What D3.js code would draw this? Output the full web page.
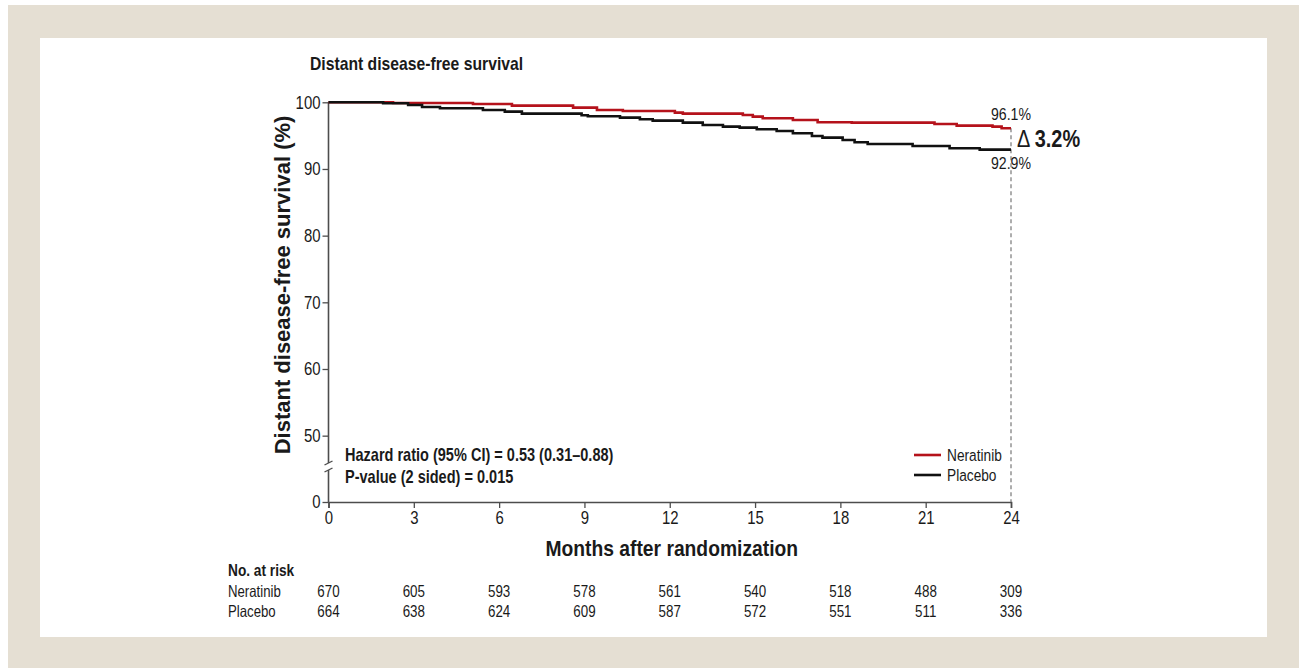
<!DOCTYPE html>
<html>
<head>
<meta charset="utf-8">
<script src="https://cdn.jsdelivr.net/npm/d3@7"></script>
<style>
  body { margin: 0; background: #fff; }
  svg text { font-family: "Liberation Sans", Arial, sans-serif; fill: #1a1a1a; }
</style>
</head>
<body>
<div id="chart"></div>
<script>
// Kaplan-Meier step data (months, % free of distant disease)
var neratinibTimes = [0, 2.27, 5.08, 6.45, 8.6, 9.44, 10.35, 12.18, 12.46, 14.57, 14.92, 15.27, 16.33, 17.2, 18.4, 21.31, 22.09, 23.35, 23.67, 24];
var neratinibSurv  = [100, 99.9, 99.75, 99.5, 99.2, 98.85, 98.7, 98.45, 98.3, 98.1, 97.85, 97.6, 97.35, 97.0, 96.95, 96.75, 96.5, 96.35, 96.1, 96.1];

var placeboTimes = [0, 1.92, 2.8, 3.29, 3.92, 5.43, 6.2, 6.8, 8.9, 9.12, 10.25, 10.95, 11.4, 12.46, 13.16, 13.87, 14.46, 15.06, 15.76, 16.33, 17.0, 17.37, 18.08, 18.5, 18.96, 20.54, 21.84, 22.9, 24];
var placeboSurv  = [100, 99.85, 99.6, 99.3, 99.1, 98.85, 98.6, 98.3, 98.05, 97.9, 97.7, 97.45, 97.25, 96.95, 96.6, 96.35, 96.2, 95.95, 95.7, 95.35, 94.95, 94.7, 94.35, 94.0, 93.75, 93.45, 93.1, 92.9, 92.9];

var xTicks = [0, 3, 6, 9, 12, 15, 18, 21, 24];
var yTicks = [0, 50, 60, 70, 80, 90, 100];

var riskNeratinib = [670, 605, 593, 578, 561, 540, 518, 488, 309];
var riskPlacebo   = [664, 638, 624, 609, 587, 572, 551, 511, 336];

var finalNeratinib = "96.1%", finalPlacebo = "92.9%", deltaLabel = "3.2%";

var W = 1299, H = 668;
var SX = 0.83; // the original uses a condensed face; squeeze text horizontally

var svg = d3.select("#chart")
  .append("svg")
    .attr("width", W)
    .attr("height", H);

// helper: condensed text at (x, y)
function label(x0, y0, str, size, opts) {
  opts = opts || {};
  return svg.append("text")
    .attr("transform", "translate(" + x0 + "," + y0 + ") scale(" + (opts.sx || SX) + ",1)")
    .attr("text-anchor", opts.anchor || "start")
    .attr("font-size", size + "px")
    .attr("font-weight", opts.bold ? "bold" : "normal")
    .text(str);
}

// beige frame + white panel
svg.append("rect").attr("x", 8).attr("y", 5).attr("width", W - 8).attr("height", H - 5).attr("fill", "#e5dfd3");
svg.append("rect").attr("x", 40).attr("y", 38).attr("width", 1227).attr("height", 599).attr("fill", "#fff");

// scales (y is broken between 0 and 50)
var x = d3.scaleLinear().domain([0, 24]).range([328.5, 1011]);
var y = d3.scaleLinear().domain([0, 45, 100]).range([502, 469, 102.3]);

var axisColor = "#4d4d4d";

// x axis
var xAxis = svg.append("g")
    .attr("transform", "translate(0," + y(0) + ")")
    .call(d3.axisBottom(x).tickValues(xTicks).tickSize(6).tickPadding(3));
xAxis.select(".domain").attr("stroke", axisColor).attr("stroke-width", 1.6);
xAxis.selectAll(".tick line").attr("stroke", axisColor).attr("stroke-width", 1.3);
xAxis.selectAll(".tick text")
  .attr("font-size", "18px").attr("fill", "#1a1a1a")
  .attr("transform", "scale(" + SX + ",1)");

// y axis
var yAxis = svg.append("g")
    .attr("transform", "translate(" + x(0) + ",0)")
    .call(d3.axisLeft(y).tickValues(yTicks).tickSize(6));
yAxis.select(".domain").remove();
yAxis.selectAll(".tick line").attr("stroke", axisColor).attr("stroke-width", 1.3);
yAxis.selectAll(".tick text")
  .attr("font-size", "18px").attr("fill", "#1a1a1a")
  .attr("x", -8 / SX)
  .attr("transform", "scale(" + SX + ",1)");

// y axis line with break
var breakTop = 463, breakBot = 470;
svg.append("line").attr("x1", x(0)).attr("x2", x(0)).attr("y1", y(100)).attr("y2", breakTop)
  .attr("stroke", axisColor).attr("stroke-width", 1.6);
svg.append("line").attr("x1", x(0)).attr("x2", x(0)).attr("y1", breakBot).attr("y2", y(0))
  .attr("stroke", axisColor).attr("stroke-width", 1.6);
[breakTop, breakBot].forEach(function(b) {
  svg.append("line")
    .attr("x1", x(0) - 4).attr("y1", b + 2)
    .attr("x2", x(0) + 4).attr("y2", b - 2)
    .attr("stroke", axisColor).attr("stroke-width", 1.3);
});

// dashed reference line at 24 months
svg.append("line")
  .attr("x1", x(24)).attr("x2", x(24))
  .attr("y1", y(96.1)).attr("y2", y(0))
  .attr("stroke", "#777").attr("stroke-width", 1.2)
  .attr("stroke-dasharray", "4,3");

// survival curves
var line = d3.line()
  .x(function(d) { return x(d[0]); })
  .y(function(d) { return y(d[1]); })
  .curve(d3.curveStepAfter);

var series = [
  { name: "Neratinib", color: "#b5121b", pts: d3.zip(neratinibTimes, neratinibSurv) },
  { name: "Placebo",   color: "#111111", pts: d3.zip(placeboTimes, placeboSurv) }
];

series.forEach(function(s) {
  svg.append("path")
    .datum(s.pts)
    .attr("fill", "none")
    .attr("stroke", s.color)
    .attr("stroke-width", 2.6)
    .attr("d", line);
});

// end-point labels
label(x(24), 119.5, finalNeratinib, 17, { anchor: "middle" });
label(x(24), 168.5, finalPlacebo, 17, { anchor: "middle" });
var dl = label(1017, 147, "", 24);
dl.append("tspan").text("\u0394 ");
dl.append("tspan").attr("font-weight", "bold").text(deltaLabel);

// legend
series.forEach(function(s, i) {
  var ly = 455 + i * 20;
  svg.append("line").attr("x1", 914).attr("x2", 941).attr("y1", ly).attr("y2", ly)
    .attr("stroke", s.color).attr("stroke-width", 2.6);
  label(947, ly + 6, s.name, 16.5);
});

// statistics
label(345, 461, "Hazard ratio (95% CI) = 0.53 (0.31\u20130.88)", 17.5, { bold: true });
label(345, 483, "P-value (2 sided) = 0.015", 17.5, { bold: true });

// titles
label(310, 70, "Distant disease-free survival", 18.5, { bold: true, sx: 0.85 });

svg.append("text")
  .attr("transform", "translate(" + 290 + "," + 285 + ") rotate(-90)")
  .attr("text-anchor", "middle")
  .attr("font-size", "22px").attr("font-weight", "bold")
  .text("Distant disease-free survival (%)");

label((x(0) + x(24)) / 2 + 2, 556, "Months after randomization", 22.5, { bold: true, anchor: "middle", sx: 0.857 });

// number at risk table
label(228, 576, "No. at risk", 16.5, { bold: true });
[{ label: "Neratinib", vals: riskNeratinib, yy: 597 },
 { label: "Placebo", vals: riskPlacebo, yy: 617 }].forEach(function(r) {
  label(228, r.yy, r.label, 16.5, { sx: 0.8 });
  r.vals.forEach(function(d, i) {
    label(x(xTicks[i]), r.yy, d, 16.5, { anchor: "middle", sx: 0.81 });
  });
});
</script>
</body>
</html>
